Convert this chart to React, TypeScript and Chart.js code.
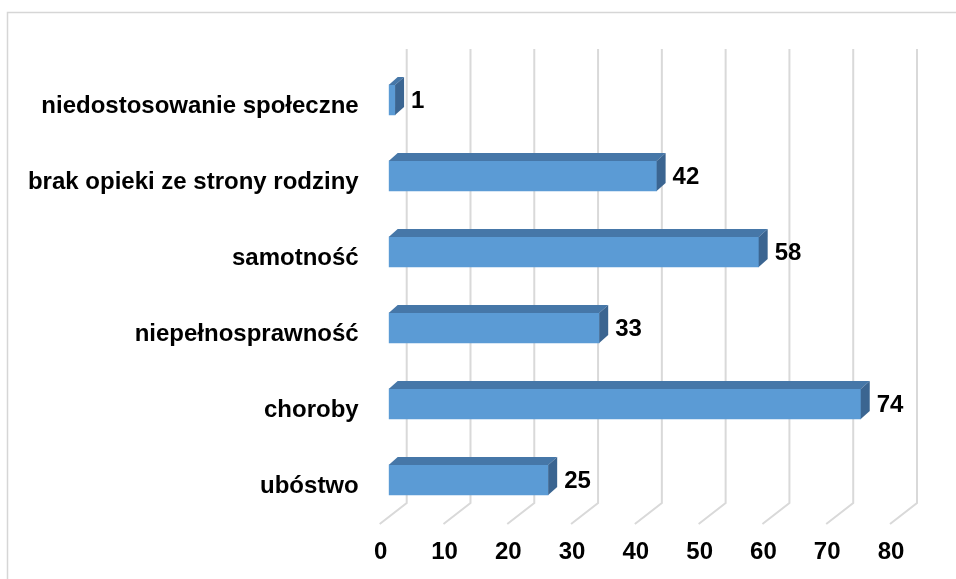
import React, { useEffect, useRef } from "react";
import { Chart, registerables } from "chart.js";

Chart.register(...registerables);

const categories = [
  "niedostosowanie społeczne",
  "brak opieki ze strony rodziny",
  "samotność",
  "niepełnosprawność",
  "choroby",
  "ubóstwo",
];
const values = [1, 42, 58, 33, 74, 25];
const xTicksMin = 0;
const xTicksMax = 80;
const xTickStep = 10;

const FONT = '"Liberation Sans", Arial, sans-serif';
const FONT_SIZE = 24;
const DEPTH_X = 9;
const DEPTH_Y = 8;

const threeDPlugin = {
  id: "threeD",
  beforeDatasetsDraw(chart: any) {
    const { ctx, chartArea, scales } = chart;
    const xs = scales.x;
    ctx.save();
    // outer frame
    ctx.strokeStyle = "#d6d6d6";
    ctx.lineWidth = 1.5;
    ctx.beginPath();
    ctx.moveTo(7.5, 579);
    ctx.lineTo(7.5, 12.5);
    ctx.lineTo(956, 12.5);
    ctx.stroke();
    // back wall gridlines + floor diagonals
    ctx.strokeStyle = "#d9d9d9";
    ctx.lineWidth = 2;
    const topY = chartArea.top - 13;
    const backBottom = chartArea.bottom - 15;
    for (let v = xTicksMin; v <= xTicksMax; v += xTickStep) {
      const fx = xs.getPixelForValue(v);
      const bx = fx + 2 * DEPTH_X;
      ctx.beginPath();
      ctx.moveTo(bx, topY);
      ctx.lineTo(bx, backBottom);
      ctx.lineTo(bx - 3 * DEPTH_X, backBottom + 21);
      ctx.stroke();
    }
    ctx.restore();
  },
  afterDatasetsDraw(chart: any) {
    const { ctx } = chart;
    const meta = chart.getDatasetMeta(0);
    ctx.save();
    meta.data.forEach((bar: any, i: number) => {
      const { x, y, base, height } = bar.getProps(["x", "y", "base", "height"], true);
      const top = y - height / 2;
      const bot = y + height / 2;
      // top face
      ctx.fillStyle = "#4677a8";
      ctx.beginPath();
      ctx.moveTo(base, top);
      ctx.lineTo(x, top);
      ctx.lineTo(x + DEPTH_X, top - DEPTH_Y);
      ctx.lineTo(base + DEPTH_X, top - DEPTH_Y);
      ctx.closePath();
      ctx.fill();
      // side face
      ctx.fillStyle = "#3b6591";
      ctx.beginPath();
      ctx.moveTo(x, top);
      ctx.lineTo(x + DEPTH_X, top - DEPTH_Y);
      ctx.lineTo(x + DEPTH_X, bot - DEPTH_Y);
      ctx.lineTo(x, bot);
      ctx.closePath();
      ctx.fill();
      // value label
      ctx.fillStyle = "#000";
      ctx.font = `bold ${FONT_SIZE}px ${FONT}`;
      ctx.textAlign = "left";
      ctx.textBaseline = "middle";
      ctx.fillText(String(values[i]), x + 16, y + 1);
    });
    ctx.restore();
  },
};

export default function App() {
  const ref = useRef<HTMLCanvasElement | null>(null);
  useEffect(() => {
    if (!ref.current) return;
    const chart = new Chart(ref.current, {
      type: "bar",
      data: {
        labels: categories,
        datasets: [
          {
            data: values,
            backgroundColor: "#5b9bd5",
            borderWidth: 0,
            barThickness: 30,
          },
        ],
      },
      options: {
        indexAxis: "y",
        animation: false,
        responsive: true,
        maintainAspectRatio: false,
        layout: { padding: { left: 0, right: 57, top: 62, bottom: 0 } },
        plugins: { legend: { display: false }, tooltip: { enabled: false } },
        scales: {
          x: {
            min: xTicksMin,
            max: xTicksMax,
            grid: { display: false, drawTicks: false },
            border: { display: false },
            ticks: {
              stepSize: xTickStep,
              padding: 20,
              labelOffset: -8,
              color: "#000",
              font: { family: FONT, size: FONT_SIZE, weight: "bold" },
            },
            afterFit: (s: any) => {
              s.height = 61;
            },
          },
          y: {
            grid: { display: false, drawTicks: false },
            border: { display: false },
            ticks: {
              padding: 30,
              labelOffset: 6,
              color: "#000",
              font: { family: FONT, size: FONT_SIZE, weight: "bold" },
            },
            afterFit: (s: any) => {
              s.width = 388.7;
            },
          },
        },
      },
      plugins: [threeDPlugin],
    });
    return () => chart.destroy();
  }, []);
  return (
    <div style={{ position: "absolute", left: 0, top: 0, width: 956, height: 579, background: "#fff" }}>
      <canvas ref={ref} />
    </div>
  );
}
